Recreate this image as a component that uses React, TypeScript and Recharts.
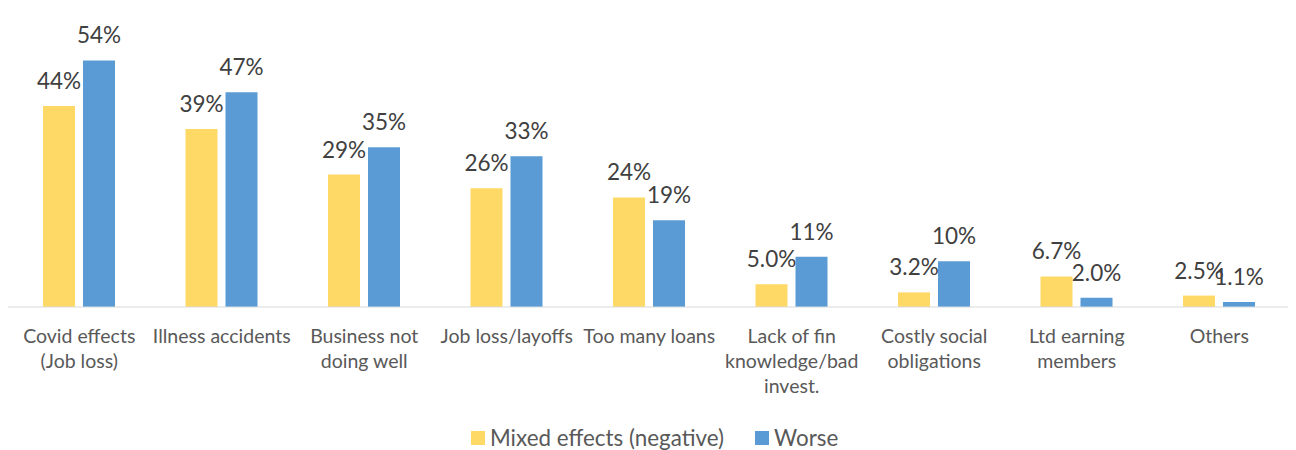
import React from "react";
import { BarChart, Bar, XAxis, YAxis, LabelList, Legend } from "recharts";

const categories = [
  "Covid effects\n(Job loss)",
  "Illness accidents",
  "Business not\ndoing well",
  "Job loss/layoffs",
  "Too many loans",
  "Lack of fin\nknowledge/bad\ninvest.",
  "Costly social\nobligations",
  "Ltd earning\nmembers",
  "Others",
];
const mixedValues = [44, 39, 29, 26, 24, 5.0, 3.2, 6.7, 2.5];
const worseValues = [54, 47, 35, 33, 19, 11, 10, 2.0, 1.1];
const seriesNames = ["Mixed effects (negative)", "Worse"];
const seriesColors = ["#FFD966", "#5B9BD5"];

const data = categories.map((c, i) => ({
  name: c,
  mixed: mixedValues[i],
  worse: worseValues[i],
}));

const FONT = "Lato, 'Open Sans', sans-serif";

const fmt = (v: any) => {
  const n = Number(v);
  return n >= 10 ? `${Math.round(n)}%` : `${n.toFixed(1)}%`;
};

const CategoryTick = (props: any) => {
  const { x, y, payload } = props;
  const lines = String(payload.value).split("\n");
  return (
    <text
      x={x}
      y={y}
      textAnchor="middle"
      fill="#595959"
      fontFamily={FONT}
      fontSize={19.5}
    >
      {lines.map((l, i) => (
        <tspan key={i} x={x} dy={i === 0 ? 36 : 25}>
          {l}
        </tspan>
      ))}
    </text>
  );
};

const LegendContent = () => (
  <div
    style={{
      display: "flex",
      alignItems: "center",
      fontFamily: FONT,
      fontSize: 22.4,
      color: "#595959",
      whiteSpace: "nowrap",
      lineHeight: "24px",
    }}
  >
    {seriesNames.map((n, i) => (
      <div
        key={n}
        style={{ display: "flex", alignItems: "center", marginRight: i === 0 ? 31 : 0 }}
      >
        <div style={{ width: 14, height: 14, background: seriesColors[i], marginRight: 5 }} />
        <span>{n}</span>
      </div>
    ))}
  </div>
);

export default function App() {
  return (
    <BarChart
      width={1288}
      height={442}
      data={data}
      margin={{ top: 25, right: 5.5, left: 0, bottom: 113 }}
      barSize={32}
      barGap={8}
    >
      <XAxis
        dataKey="name"
        height={30}
        axisLine={{ stroke: "#D9D9D9", strokeWidth: 1 }}
        tickLine={false}
        tickSize={0}
        tickMargin={0}
        interval={0}
        tick={<CategoryTick />}
      />
      <YAxis hide domain={[0, 60]} />
      <Legend
        verticalAlign="middle"
        align="center"
        content={<LegendContent />}
        wrapperStyle={{ top: 418, left: 463, width: "auto" }}
      />
      <Bar dataKey="mixed" name={seriesNames[0]} fill={seriesColors[0]} isAnimationActive={false}>
        <LabelList
          dataKey="mixed"
          position="top"
          offset={17}
          formatter={fmt}
          fill="#404040"
          fontFamily={FONT}
          fontSize={22.5}
        />
      </Bar>
      <Bar dataKey="worse" name={seriesNames[1]} fill={seriesColors[1]} isAnimationActive={false}>
        <LabelList
          dataKey="worse"
          position="top"
          offset={17}
          formatter={fmt}
          fill="#404040"
          fontFamily={FONT}
          fontSize={22.5}
        />
      </Bar>
    </BarChart>
  );
}
